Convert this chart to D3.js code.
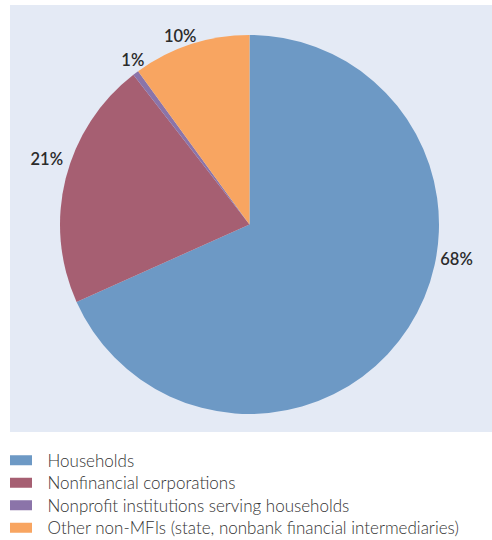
<!DOCTYPE html>
<html>
<head>
<meta charset="utf-8">
<script src="https://cdn.jsdelivr.net/npm/d3@7/dist/d3.min.js"></script>
<style>
  html, body { margin: 0; padding: 0; background: #ffffff; }
  svg { display: block; }
</style>
</head>
<body>
<svg id="chart" width="492" height="540"></svg>
<script>
// Sector breakdown (share of total, %)
const categories = [
  "Households",
  "Nonfinancial corporations",
  "Nonprofit institutions serving households",
  "Other non-MFIs (state, nonbank financial intermediaries)"
];
const shares = [68.3, 21.2, 0.5, 10.0];
const shareLabels = ["68%", "21%", "1%", "10%"];
const colors = ["#6d99c5", "#a65f72", "#8b74a9", "#f8a561"];

const svg = d3.select("#chart");
const font = "Lato, 'Open Sans', 'DejaVu Sans', sans-serif";

// panel behind the pie
svg.append("rect")
  .attr("x", 10).attr("y", 5)
  .attr("width", 482).attr("height", 427)
  .attr("fill", "#e4eaf5");

const cx = 249.5, cy = 224.5, radius = 189.5;

const data = categories.map((c, i) => ({ name: c, value: shares[i], label: shareLabels[i], color: colors[i] }));

const pie = d3.pie().value(d => d.value).sort(null);
const arcs = pie(data);
const arc = d3.arc().innerRadius(0).outerRadius(radius);

const g = svg.append("g").attr("transform", `translate(${cx},${cy})`);

g.selectAll("path.slice")
  .data(arcs)
  .join("path")
  .attr("class", "slice")
  .attr("d", arc)
  .attr("fill", d => d.data.color);

// value labels outside the pie: where along each slice the label sits
// (0 = slice start, 1 = slice end) and how far from the centre;
// the thin slice's label is nudged clockwise so it clears its neighbour
const labelPos = [0.405, 0.55, 1.4, 0.44];
const labelRadius = [210, 213, 202, 201];
g.selectAll("text.val")
  .data(arcs)
  .join("text")
  .attr("class", "val")
  .each(function (d, i) {
    const a = d.startAngle + (d.endAngle - d.startAngle) * labelPos[i];
    const r = labelRadius[i];
    d3.select(this)
      .attr("x", Math.sin(a) * r)
      .attr("y", -Math.cos(a) * r);
  })
  .attr("text-anchor", "middle")
  .attr("dominant-baseline", "central")
  .attr("font-family", font)
  .attr("font-weight", 600)
  .attr("font-size", 16.5)
  .attr("fill", "#2b2b2b")
  .text(d => d.data.label);

// legend
const legendY = d3.scaleBand().domain(categories).range([449, 539]);
const legend = svg.append("g");
const rows = legend.selectAll("g.row")
  .data(data)
  .join("g")
  .attr("class", "row")
  .attr("transform", d => `translate(0,${legendY(d.name) + legendY.bandwidth() / 2})`);

rows.append("rect")
  .attr("x", 10).attr("y", -5)
  .attr("width", 22).attr("height", 10)
  .attr("fill", d => d.color);

rows.append("text")
  .attr("x", 47.5)
  .attr("y", 0)
  .attr("dominant-baseline", "central")
  .attr("font-family", font)
  .attr("font-weight", 300)
  .attr("font-size", 17)
  .attr("fill", "#333333")
  .text(d => d.name);
</script>
</body>
</html>
